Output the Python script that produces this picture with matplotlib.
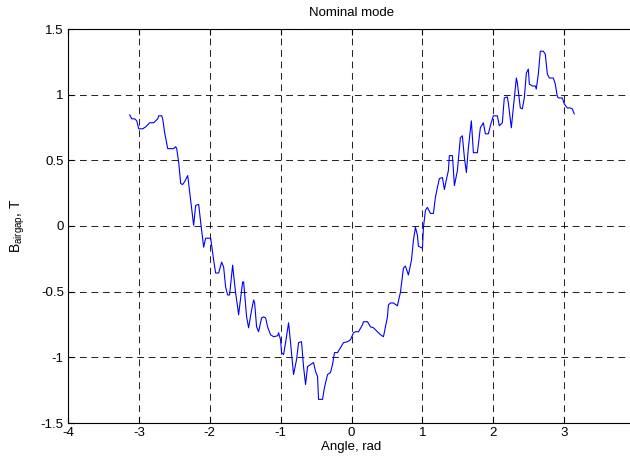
import matplotlib.pyplot as plt

plt.rcParams['font.family'] = ['Liberation Sans', 'DejaVu Sans']
plt.rcParams['mathtext.fontset'] = 'custom'
plt.rcParams['mathtext.rm'] = 'Liberation Sans'
plt.rcParams['mathtext.it'] = 'Liberation Sans'
plt.rcParams['axes.unicode_minus'] = False

# Angle (rad) and airgap flux density (T)
angle = [-3.129, -3.101, -3.058, -3.030, -3.002, -2.946, -2.903, -2.847, -2.791, -2.734,
         -2.720, -2.678, -2.664, -2.636, -2.593, -2.509, -2.481, -2.466, -2.438, -2.424,
         -2.410, -2.382, -2.353, -2.311, -2.269, -2.227, -2.199, -2.156, -2.128, -2.086,
         -2.058, -1.987, -1.945, -1.917, -1.875, -1.832, -1.804, -1.776, -1.748, -1.720,
         -1.677, -1.663, -1.635, -1.607, -1.593, -1.536, -1.522, -1.480, -1.452, -1.409,
         -1.381, -1.367, -1.339, -1.311, -1.268, -1.240, -1.212, -1.184, -1.142, -1.099,
         -1.043, -1.029, -1.001, -0.987, -0.958, -0.930, -0.888, -0.860, -0.818, -0.775,
         -0.747, -0.705, -0.677, -0.648, -0.620, -0.578, -0.536, -0.507, -0.479, -0.465,
         -0.409, -0.381, -0.338, -0.296, -0.268, -0.240, -0.197, -0.155, -0.113, -0.056,
         -0.014, 0.028, 0.056, 0.099, 0.155, 0.169, 0.226, 0.268, 0.310, 0.366,
         0.409, 0.451, 0.479, 0.507, 0.521, 0.550, 0.592, 0.648, 0.691, 0.733,
         0.761, 0.803, 0.846, 0.874, 0.902, 0.930, 0.944, 1.001, 1.015, 1.043,
         1.071, 1.113, 1.156, 1.184, 1.212, 1.240, 1.283, 1.311, 1.339, 1.367,
         1.381, 1.424, 1.452, 1.494, 1.536, 1.564, 1.593, 1.621, 1.649, 1.691,
         1.720, 1.776, 1.818, 1.860, 1.889, 1.931, 1.959, 2.001, 2.058, 2.086,
         2.128, 2.156, 2.199, 2.213, 2.255, 2.283, 2.326, 2.340, 2.382, 2.410,
         2.438, 2.467, 2.495, 2.509, 2.551, 2.593, 2.607, 2.636, 2.664, 2.706,
         2.734, 2.763, 2.791, 2.847, 2.875, 2.903, 2.918, 2.974, 3.002, 3.044,
         3.086, 3.115, 3.143]
b_airgap = [0.846, 0.816, 0.816, 0.801, 0.740, 0.740, 0.755, 0.786, 0.786, 0.816,
            0.839, 0.839, 0.816, 0.710, 0.589, 0.589, 0.604, 0.589, 0.483, 0.407,
            0.323, 0.316, 0.339, 0.384, 0.195, 0.005, 0.157, 0.164, 0.028, -0.161,
            -0.093, -0.093, -0.260, -0.358, -0.358, -0.275, -0.313, -0.464, -0.525, -0.525,
            -0.298, -0.373, -0.510, -0.616, -0.676, -0.426, -0.426, -0.692, -0.775, -0.639,
            -0.563, -0.586, -0.768, -0.805, -0.699, -0.692, -0.699, -0.768, -0.828, -0.843,
            -0.836, -0.813, -0.866, -0.964, -0.979, -0.888, -0.737, -0.888, -1.131, -1.017,
            -0.888, -0.881, -1.070, -1.207, -1.070, -1.055, -1.040, -1.108, -1.146, -1.320,
            -1.320, -1.229, -1.131, -1.116, -1.055, -0.964, -0.964, -0.926, -0.888, -0.881,
            -0.866, -0.813, -0.805, -0.805, -0.752, -0.729, -0.729, -0.768, -0.775, -0.805,
            -0.828, -0.843, -0.768, -0.692, -0.601, -0.586, -0.586, -0.608, -0.502, -0.320,
            -0.305, -0.373, -0.260, -0.108, -0.010, -0.070, -0.154, -0.169, -0.010, 0.119,
            0.142, 0.096, 0.096, 0.218, 0.293, 0.361, 0.369, 0.278, 0.354, 0.422,
            0.536, 0.536, 0.308, 0.422, 0.672, 0.687, 0.520, 0.407, 0.596, 0.801,
            0.558, 0.558, 0.748, 0.786, 0.702, 0.702, 0.763, 0.839, 0.839, 0.763,
            0.786, 0.975, 0.983, 0.937, 0.748, 0.899, 1.127, 1.089, 0.899, 0.892,
            0.975, 1.164, 1.195, 1.081, 1.066, 1.066, 1.043, 1.157, 1.331, 1.331,
            1.308, 1.157, 1.127, 1.127, 1.081, 0.990, 0.975, 0.975, 0.930, 0.899,
            0.899, 0.892, 0.854]

# x = 4 sits just past the right edge of the picture, so it is left out
x_ticks = [-4, -3, -2, -1, 0, 1, 2, 3]
x_ticklabels = ['-4', '-3', '-2', '-1', '0', '1', '2', '3']
y_ticks = [-1.5, -1, -0.5, 0, 0.5, 1, 1.5]
y_ticklabels = ['-1.5', '-1', '-0.5', '0', '0.5', '1', '1.5']

fig = plt.figure(figsize=(6.3, 4.63), dpi=100)
ax = fig.add_axes([68 / 630, 40 / 463, 567 / 630, 394 / 463])

ax.plot(angle, b_airgap, color='#0000ff', linewidth=0.8)

ax.set_xlim(-4, 4)
ax.set_ylim(-1.5, 1.5)
ax.set_xticks(x_ticks)
ax.set_xticklabels(x_ticklabels)
ax.set_yticks(y_ticks)
ax.set_yticklabels(y_ticklabels)
ax.grid(True, color='black', linestyle=(0, (6.5, 4.5)), linewidth=0.75, alpha=0.85)
ax.tick_params(direction='in', labelsize=9.5, top=True, right=False, length=4, pad=3)
for s in ax.spines.values():
    s.set_linewidth(0.8)
ax.spines['right'].set_visible(False)

ax.set_title('Nominal mode', fontsize=9.5, pad=9)
ax.set_xlabel('Angle, rad', fontsize=9.5, labelpad=1)
ax.set_ylabel(r'B$_{\mathrm{airgap}}$, T', fontsize=10, labelpad=10)

fig.savefig('out.png', dpi=100)
